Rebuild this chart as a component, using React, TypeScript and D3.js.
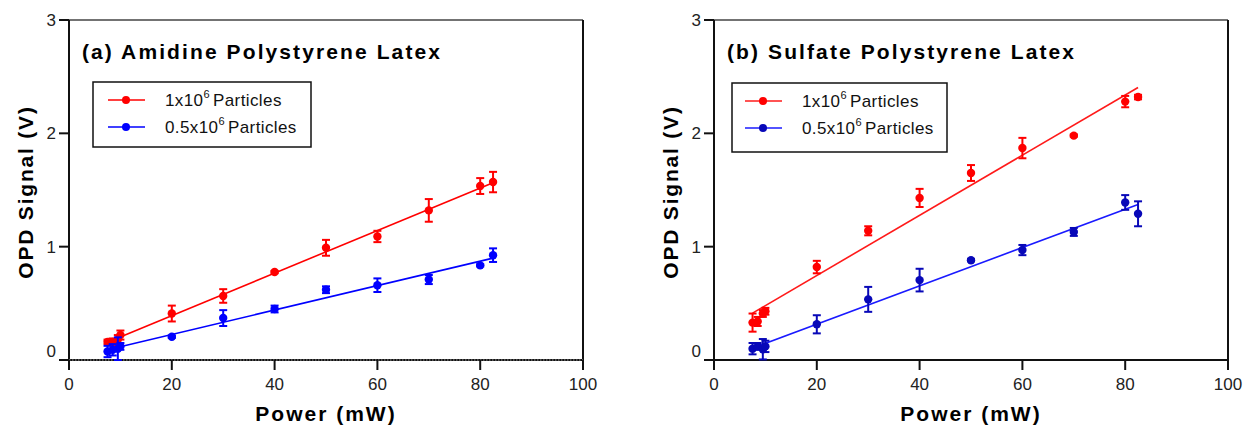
import React from "react";
import * as d3 from "d3";

// laser power (mW), shared by every series
const powerMW = [7.5, 8.5, 9.5, 10, 20, 30, 40, 50, 60, 70, 80, 82.5];

// (a) amidine latex
const amidineHigh = [0.16, 0.16, 0.18, 0.22, 0.41, 0.565, 0.776, 0.99, 1.09, 1.32, 1.535, 1.57];
const amidineHighErr = [0.02, 0.03, 0.04, 0.04, 0.07, 0.06, 0.01, 0.07, 0.05, 0.1, 0.07, 0.09];
const amidineLow = [0.075, 0.09, 0.1, 0.12, 0.205, 0.37, 0.45, 0.62, 0.66, 0.71, 0.835, 0.925];
const amidineLowErr = [0.05, 0.05, 0.1, 0.03, 0.01, 0.07, 0.03, 0.03, 0.06, 0.04, 0.01, 0.06];

// (b) sulfate latex
const sulfateHigh = [0.33, 0.34, 0.41, 0.43, 0.82, 1.14, 1.43, 1.65, 1.87, 1.98, 2.28, 2.32];
const sulfateHighErr = [0.08, 0.04, 0.03, 0.03, 0.055, 0.04, 0.08, 0.07, 0.09, 0.01, 0.05, 0.02];
const sulfateLow = [0.1, 0.12, 0.095, 0.12, 0.315, 0.535, 0.705, 0.88, 0.97, 1.13, 1.39, 1.29];
const sulfateLowErr = [0.05, 0.03, 0.09, 0.05, 0.08, 0.11, 0.1, 0.01, 0.045, 0.035, 0.065, 0.11];

const xTicks = [0, 20, 40, 60, 80, 100];
const yTicks = [0, 1, 2, 3];
const seriesNames = ["1x10", "0.5x10"];

const FONT = "'Liberation Sans', Arial, sans-serif";

// least squares fit, like the original software draws
const fit = (xs, ys) => {
  const mx = d3.mean(xs);
  const my = d3.mean(ys);
  const sxy = d3.sum(xs, (x, i) => (x - mx) * (ys[i] - my));
  const sxx = d3.sum(xs, (x) => (x - mx) ** 2);
  const slope = sxy / sxx;
  const icpt = my - slope * mx;
  const ext = d3.extent(xs);
  return ext.map((x) => [x, icpt + slope * x]);
};

const panels = [
  {
    title: "(a) Amidine Polystyrene Latex",
    left: 69,
    right: 583,
    titleX: 82,
    legend: { x: 93, y: 82, w: 218, h: 65, lineX: 108, textX: 165 },
    zeroLine: true,
    series: [
      { ys: amidineHigh, err: amidineHighErr, line: "#ff0000", dot: "#ff0000" },
      { ys: amidineLow, err: amidineLowErr, line: "#0000ff", dot: "#0000ff" },
    ],
  },
  {
    title: "(b) Sulfate Polystyrene Latex",
    left: 714,
    right: 1228,
    titleX: 727,
    legend: { x: 732, y: 83, w: 215, h: 69, lineX: 745, textX: 802 },
    zeroLine: false,
    series: [
      { ys: sulfateHigh, err: sulfateHighErr, line: "#ff1a1a", dot: "#ff0000" },
      { ys: sulfateLow, err: sulfateLowErr, line: "#1a1aff", dot: "#0808b8" },
    ],
  },
];

const TOP = 20;
const BOTTOM = 360;

const Panel = ({ p }) => {
  const x = d3.scaleLinear().domain([0, 100]).range([p.left, p.right]);
  const y = d3.scaleLinear().domain([0, 3]).range([BOTTOM, TOP]);
  const line = d3.line().x((d) => x(d[0])).y((d) => y(d[1]));
  const lg = p.legend;
  const midX = (p.left + p.right) / 2;

  return (
    <g>
      {/* frame */}
      <line x1={p.left} x2={p.right} y1={TOP} y2={TOP} stroke="#444" strokeWidth={1.5} />
      <line x1={p.right} x2={p.right} y1={TOP} y2={BOTTOM} stroke="#111" strokeWidth={2} />
      <line x1={p.left} x2={p.left} y1={TOP} y2={BOTTOM + 10} stroke="#111" strokeWidth={2} />
      <line x1={p.left - 10} x2={p.right} y1={BOTTOM} y2={BOTTOM} stroke="#111" strokeWidth={2} />
      {p.zeroLine && (
        <line x1={x(0)} x2={x(100)} y1={y(0)} y2={y(0)} stroke="#999" strokeWidth={1} strokeDasharray="1.5,1.5" />
      )}

      {/* x ticks */}
      {xTicks.map((t) => (
        <g key={"x" + t}>
          <line x1={x(t)} x2={x(t)} y1={BOTTOM} y2={BOTTOM + 10} stroke="#111" strokeWidth={2} />
          <text x={x(t)} y={390} textAnchor="middle" fontSize={17} fill="#222" fontFamily={FONT}>
            {t}
          </text>
        </g>
      ))}
      {/* y ticks */}
      {yTicks.map((t) => (
        <g key={"y" + t}>
          <line x1={p.left - 10} x2={p.left} y1={y(t)} y2={y(t)} stroke="#111" strokeWidth={2} />
          <text
            x={p.left - 13}
            y={y(t) + (t === 0 ? -9 : 0)}
            dy="0.36em"
            textAnchor="end"
            fontSize={17}
            fill="#222"
            fontFamily={FONT}
          >
            {t}
          </text>
        </g>
      ))}

      {/* axis titles */}
      <text
        x={midX}
        y={421}
        textAnchor="middle"
        fontSize={21}
        fontWeight="bold"
        letterSpacing={2}
        fontFamily={FONT}
      >
        Power (mW)
      </text>
      <text
        transform={`translate(${p.left - 36},192) rotate(-90)`}
        textAnchor="middle"
        fontSize={21}
        fontWeight="bold"
        letterSpacing={1.8}
        fontFamily={FONT}
      >
        OPD Signal (V)
      </text>

      {/* panel title */}
      <text x={p.titleX} y={59} fontSize={21} fontWeight="bold" letterSpacing={2.1} fontFamily={FONT}>
        {p.title}
      </text>

      {/* fits */}
      {p.series.map((s, i) => (
        <path key={"f" + i} d={line(fit(powerMW, s.ys))} fill="none" stroke={s.line} strokeWidth={1.6} />
      ))}

      {/* error bars + points */}
      {p.series.map((s, i) => (
        <g key={"s" + i}>
          {powerMW.map((px, j) => {
            const lo = y(s.ys[j] - s.err[j]);
            const hi = y(s.ys[j] + s.err[j]);
            const cx = x(px);
            return (
              <g key={j}>
                <line x1={cx} x2={cx} y1={lo} y2={hi} stroke={s.dot} strokeWidth={2} />
                <line x1={cx - 4} x2={cx + 4} y1={lo} y2={lo} stroke={s.dot} strokeWidth={2} />
                <line x1={cx - 4} x2={cx + 4} y1={hi} y2={hi} stroke={s.dot} strokeWidth={2} />
                <circle cx={cx} cy={y(s.ys[j])} r={4.2} fill={s.dot} />
              </g>
            );
          })}
        </g>
      ))}

      {/* legend */}
      <rect x={lg.x} y={lg.y} width={lg.w} height={lg.h} fill="white" stroke="#111" strokeWidth={1.5} />
      {p.series.map((s, i) => {
        const ry = lg.y + 18 + i * 27;
        return (
          <g key={"l" + i}>
            <line x1={lg.lineX} x2={lg.lineX + 37} y1={ry} y2={ry} stroke={s.line} strokeWidth={1.6} />
            <circle cx={lg.lineX + 18} cy={ry} r={4} fill={s.dot} />
            <text x={lg.textX} y={ry + 6} fontSize={17} letterSpacing={0.4} fill="#111" fontFamily={FONT}>
              {seriesNames[i]}
              <tspan fontSize={11} dy={-8}>6</tspan>
              <tspan dy={8} dx={3}>Particles</tspan>
            </text>
          </g>
        );
      })}
    </g>
  );
};

export default function App() {
  return (
    <svg
      width={1253}
      height={429}
      style={{ position: "absolute", left: 0, top: 0, background: "white" }}
    >
      <rect width={1253} height={429} fill="white" />
      {panels.map((p, i) => (
        <Panel key={i} p={p} />
      ))}
    </svg>
  );
}
